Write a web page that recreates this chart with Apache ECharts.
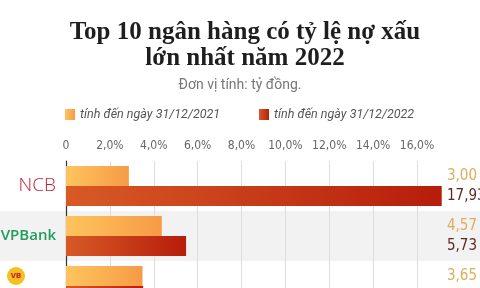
<!DOCTYPE html>
<html>
<head>
<meta charset="utf-8">
<script src="https://cdn.jsdelivr.net/npm/echarts@6/dist/echarts.min.js"></script>
<style>
  html, body { margin: 0; padding: 0; background: #fff; }
  #chart { width: 480px; height: 288px; }
</style>
</head>
<body>
<div id="chart"></div>
<script>
  // data (only the first three banks are visible)
  const banks = ['NCB', 'VPBank', 'VB']
  const values2021 = [3.00, 4.57, 3.65]
  const values2022 = [17.93, 5.73, 3.68]
  const name2021 = 'tính đến ngày 31/12/2021'
  const name2022 = 'tính đến ngày 31/12/2022'
  const tickLabels = ['0', '2,0%', '4,0%', '6,0%', '8,0%', '10,0%', '12,0%', '14,0%', '16,0%']

  const narrow = "'Liberation Sans Narrow', 'DejaVu Sans Condensed', Roboto, sans-serif"
  const fmt = v => v.toFixed(2).replace('.', ',')

  const chart = echarts.init(document.getElementById('chart'), null, { renderer: 'canvas' })
  chart.setOption({
    backgroundColor: '#fff',
    animation: false,
    title: [{
      text: 'Top 10 ngân hàng có tỷ lệ nợ xấu\nlớn nhất năm 2022',
      left: 240,
      top: 15,
      textAlign: 'center',
      textStyle: {
        fontFamily: "'Liberation Serif', 'DejaVu Serif', serif",
        fontWeight: 'bold',
        fontSize: 25,
        lineHeight: 26,
        color: '#1e1e1e'
      }
    }, {
      text: 'Đơn vị tính: tỷ đồng.',
      left: 'center',
      top: 73,
      textStyle: { fontFamily: 'Roboto, sans-serif', fontWeight: 'normal', fontSize: 14, color: '#777' }
    }],
    legend: [{
      data: [name2021],
      left: 60, top: 103,
      icon: 'rect', itemWidth: 10, itemHeight: 11, itemGap: 6,
      textStyle: { fontFamily: 'Roboto, sans-serif', fontStyle: 'italic', fontSize: 12.5, color: '#555' }
    }, {
      data: [name2022],
      left: 254, top: 103,
      icon: 'rect', itemWidth: 10, itemHeight: 11, itemGap: 6,
      textStyle: { fontFamily: 'Roboto, sans-serif', fontStyle: 'italic', fontSize: 12.5, color: '#555' }
    }],
    grid: [
      { left: 66, right: 63, top: 161, height: 150, outerBoundsMode: 'none' },
      // full-width grid only for the alternating row bands
      { left: 0, right: 0, top: 161, height: 150, outerBoundsMode: 'none' }
    ],
    xAxis: [{
      gridIndex: 0,
      type: 'value',
      position: 'top',
      min: 0, max: 16, interval: 2,
      z: 1,
      axisLine: { show: false },
      axisTick: { show: false },
      axisLabel: {
        margin: 9,
        fontFamily: narrow, fontSize: 12, color: '#666',
        formatter: v => tickLabels[Math.round(v / 2)]
      },
      splitLine: { lineStyle: { color: '#ddd', width: 1 } }
    }, {
      // scale used by the bars themselves
      gridIndex: 0,
      type: 'value',
      min: 0, max: 16.75,
      show: false
    }, {
      gridIndex: 1,
      type: 'value',
      show: false
    }],
    yAxis: [{
      gridIndex: 0,
      type: 'category',
      data: banks,
      inverse: true,
      z: 1,
      axisLine: { lineStyle: { color: '#333', width: 1.2 } },
      axisTick: { show: false },
      axisLabel: {
        margin: 10,
        formatter: v => v === 'VB' ? '{vb|VB}{sp|}\n{gap|}' : (v === 'NCB' ? '{ncb|NCB}' : '{vp|VPBank}'),
        rich: {
          ncb: { fontFamily: "'Open Sans', sans-serif", fontWeight: 300, fontSize: 19, color: '#c0203c' },
          vp: { fontFamily: "'Open Sans', sans-serif", fontWeight: 600, fontSize: 15, color: '#1f9d5b' },
          vb: {
            fontFamily: 'Roboto, sans-serif', fontWeight: 'bold', fontSize: 8, color: '#c8102e',
            backgroundColor: '#f5bf1e', borderRadius: 9, width: 18, height: 18, align: 'center'
          },
          sp: { width: 31 },
          gap: { height: 20 }
        }
      }
    }, {
      gridIndex: 1,
      type: 'category',
      data: banks,
      inverse: true,
      z: 0,
      axisLine: { show: false },
      axisTick: { show: false },
      axisLabel: { show: false },
      splitArea: { show: true, areaStyle: { color: ['rgba(255,255,255,0)', '#f2f2f2'] } }
    }],
    series: [{
      name: name2021,
      type: 'bar',
      xAxisIndex: 1,
      yAxisIndex: 0,
      data: values2021,
      barWidth: 20,
      barGap: '0%',
      clip: false,
      itemStyle: {
        color: new echarts.graphic.LinearGradient(0, 0, 1, 0, [
          { offset: 0, color: '#ffc45e' },
          { offset: 1, color: '#f59b45' }
        ])
      },
      label: {
        show: true,
        position: 'insideLeft',
        distance: 0,
        offset: [381, 0],
        fontFamily: narrow, fontSize: 15, color: '#dcad5c',
        formatter: p => fmt(p.value)
      }
    }, {
      name: name2022,
      type: 'bar',
      xAxisIndex: 1,
      yAxisIndex: 0,
      data: values2022,
      barWidth: 20,
      barGap: '0%',
      clip: false,
      itemStyle: {
        color: new echarts.graphic.LinearGradient(0, 0, 1, 0, [
          { offset: 0, color: '#d85a26' },
          { offset: 1, color: '#b61d0b' }
        ])
      },
      label: {
        show: true,
        position: 'insideLeft',
        distance: 0,
        offset: [381, 0],
        fontFamily: narrow, fontSize: 15, color: '#5b2a20',
        formatter: p => fmt(p.value)
      }
    }]
  })
</script>
</body>
</html>
